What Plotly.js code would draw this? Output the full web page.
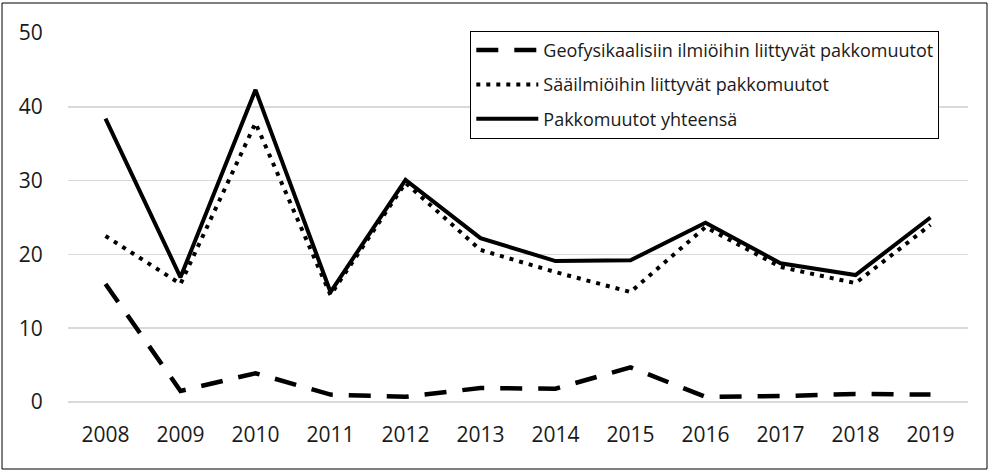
<!DOCTYPE html>
<html><head><meta charset="utf-8">
<script src="https://cdn.plot.ly/plotly-3.0.1.min.js"></script>
<style>html,body{margin:0;padding:0;background:#fff}#c{width:990px;height:472px}</style>
</head><body><div id="c"></div>
<script>
const years = ['2008','2009','2010','2011','2012','2013','2014','2015','2016','2017','2018','2019'];
const geoValues = [16.0, 1.5, 3.9, 1.0, 0.7, 1.9, 1.8, 4.7, 0.7, 0.8, 1.1, 1.0];
const weatherValues = [22.5, 16.0, 37.8, 14.5, 29.7, 20.6, 17.6, 14.9, 23.7, 18.3, 16.1, 24.0];
const totalValues = [38.4, 16.9, 42.3, 14.9, 30.1, 22.2, 19.1, 19.2, 24.3, 18.8, 17.2, 25.0];
const seriesNames = ['Geofysikaalisiin ilmiöihin liittyvät pakkomuutot', 'Sääilmiöihin liittyvät pakkomuutot', 'Pakkomuutot yhteensä'];

const FONT = '"Open Sans", sans-serif';
const traces = [
  {x: years, y: geoValues, name: seriesNames[0], type: 'scatter', mode: 'lines', legendgroup: 'a',
   line: {color: '#000', width: 4.5, dash: '22px,16px'}},
  {x: years, y: weatherValues, name: seriesNames[1], type: 'scatter', mode: 'lines', legendgroup: 'b',
   line: {color: '#000', width: 4, dash: '4px,6px'}},
  {x: years, y: totalValues, name: seriesNames[2], type: 'scatter', mode: 'lines', legendgroup: 'c',
   line: {color: '#000', width: 4}}
];
const layout = {
  width: 990, height: 472,
  margin: {l: 68, r: 22, t: 33, b: 70},
  paper_bgcolor: '#fff', plot_bgcolor: '#fff',
  font: {family: FONT, size: 18, color: '#1a1a1a'},
  showlegend: true,
  legend: {x: 0.447, y: 1.006, xanchor: 'left', yanchor: 'top', bordercolor: '#000', borderwidth: 1,
    bgcolor: '#fff', font: {family: FONT, size: 18, color: '#1a1a1a'}, itemwidth: 62, tracegroupgap: 8},
  xaxis: {type: 'category', range: [-0.5, 11.5], showgrid: false, zeroline: false, showline: false,
    ticks: 'outside', ticklen: 14, tickcolor: 'rgba(0,0,0,0)', tickfont: {family: FONT, size: 21, color: '#1a1a1a'}},
  yaxis: {range: [0, 50], tickvals: [0, 10, 20, 30, 40, 50], showgrid: true, gridcolor: '#d9d9d9', gridwidth: 1.5,
    zeroline: true, zerolinecolor: '#d9d9d9', zerolinewidth: 1.5, showline: false, ticks: 'outside', ticklen: 20, tickcolor: 'rgba(0,0,0,0)',
    tickfont: {family: FONT, size: 21, color: '#1a1a1a'}},
  shapes: [{type: 'rect', xref: 'paper', yref: 'paper', x0: -0.0733, x1: 1.0211, y0: -0.1816, y1: 1.0813,
    line: {color: '#000', width: 1}, fillcolor: 'rgba(0,0,0,0)', layer: 'below'}]
};
Plotly.newPlot('c', traces, layout, {displayModeBar: false, staticPlot: true});
</script></body></html>
